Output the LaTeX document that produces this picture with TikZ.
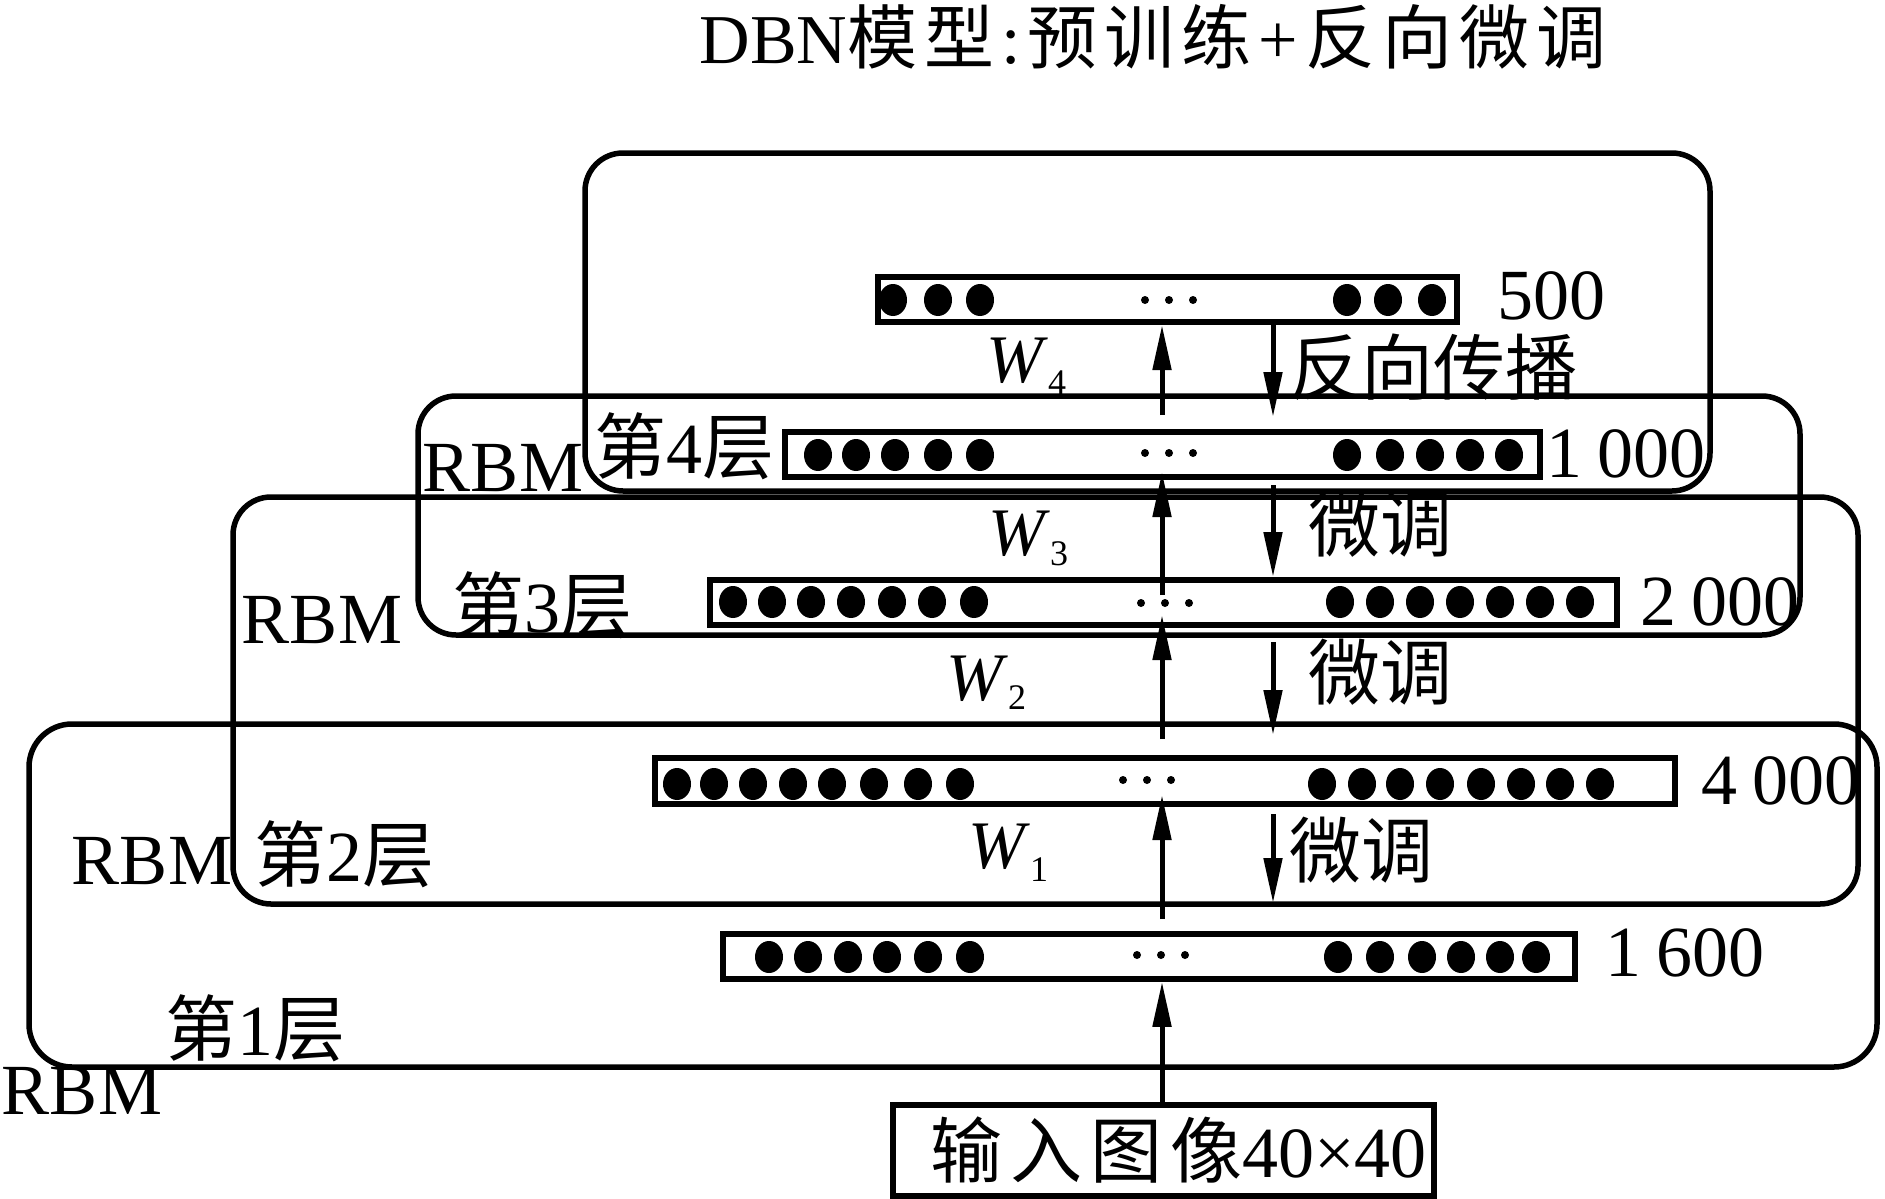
\documentclass[tikz,border=0pt]{standalone}
\usepackage{fontspec}
\setmainfont{Liberation Serif}
\newfontfamily\cjk{Noto Sans CJK SC}
\usetikzlibrary{arrows.meta}
\newcommand\tgap{\hspace{7pt}}
\newcommand\igap{\hspace{8pt}}
\begin{document}
\begin{tikzpicture}[x=1pt,y=-1pt,
  rbox/.style={draw, line width=5.5pt, rounded corners=38pt, inner sep=0pt},
  layerbox/.style={draw, line width=5.5pt, inner sep=0pt},
  lbl/.style={inner sep=0pt, font=\fontsize{72}{72}\selectfont},
  wlbl/.style={inner sep=0pt, anchor=base west, font=\fontsize{68}{68}\selectfont},
  arr/.style={line width=5pt, -{Triangle[length=45pt,width=18pt]}},
  unitdot/.style={fill=black},
  edot/.style={fill=black}]
\useasboundingbox (0,0) rectangle (1885,1199);

% title
\node[inner sep=0pt, font=\fontsize{70}{70}\selectfont] (title) at (1153,37)
  {DBN{\cjk 模}\tgap{\cjk 型}\tgap:\tgap{\cjk 预}\tgap{\cjk 训}\tgap{\cjk 练}\tgap+\tgap{\cjk 反}\tgap{\cjk 向}\tgap{\cjk 微}\tgap{\cjk 调}};

% RBM containers
\node[rbox, minimum width=1125pt, minimum height=338pt] (rbm4) at (1147.5,322) {};
\node[rbox, minimum width=1382pt, minimum height=239pt] (rbm3) at (1109,515.5) {};
\node[rbox, minimum width=1625pt, minimum height=407pt] (rbm2) at (1045.5,700.5) {};
\node[rbox, minimum width=1848pt, minimum height=343pt, rounded corners=43pt] (rbm1) at (953,895.5) {};

% layers
\node[layerbox, minimum width=579pt, minimum height=45pt] (l500) at (1167.5,299.5) {};
\node[layerbox, minimum width=755pt, minimum height=45pt] (l1000) at (1162.5,454.5) {};
\node[layerbox, minimum width=907pt, minimum height=45pt] (l2000) at (1163.5,602.5) {};
\node[layerbox, minimum width=1020pt, minimum height=46pt] (l4000) at (1165,781) {};
\node[layerbox, minimum width=852pt, minimum height=45pt] (l1600) at (1149,956.5) {};
\node[layerbox, minimum width=541pt, minimum height=91pt, font=\fontsize{72}{72}\selectfont] (inp) at (1163.5,1150.5)
  {\hspace{30pt}{\cjk 输}\igap{\cjk 入}\igap{\cjk 图}\igap{\cjk 像}40×40};

% units
\foreach \x in {893,938,980,1347,1388,1432}
  \fill[unitdot] (\x,300) ellipse [x radius=14pt, y radius=16pt];
\foreach \x in {818,856,895,938,980,1347,1390,1430,1470,1509}
  \fill[unitdot] (\x,455) ellipse [x radius=14pt, y radius=16pt];
\foreach \x in {733,772,811,851,892,932,974,1340,1380,1420,1460,1500,1540,1580}
  \fill[unitdot] (\x,602) ellipse [x radius=14pt, y radius=16pt];
\foreach \x in {677,714,753,793,832,874,918,960,1322,1362,1400,1440,1481,1521,1560,1600}
  \fill[unitdot] (\x,784) ellipse [x radius=14pt, y radius=16pt];
\foreach \x in {769,808,848,887,928,970,1338,1380,1422,1461,1500,1536}
  \fill[unitdot] (\x,957) ellipse [x radius=14pt, y radius=16pt];

% ellipses (...)
\foreach \x in {1145,1169,1193} {
  \fill[edot] (\x,300) circle (4pt);
  \fill[edot] (\x,453) circle (4pt);}
\foreach \x in {1141,1165,1189} \fill[edot] (\x,603) circle (4pt);
\foreach \x in {1123,1147,1171} \fill[edot] (\x,780) circle (4pt);
\foreach \x in {1137,1161,1185} \fill[edot] (\x,955) circle (4pt);

% arrow end points
\coordinate (ux) at (1162,0);
\coordinate (dx) at (1273,0);
\coordinate (a1s) at (1162,919); \coordinate (a1e) at (1162,795);
\coordinate (a2s) at (1162,739); \coordinate (a2e) at (1162,615);
\coordinate (a3s) at (1162,595); \coordinate (a3e) at (1162,472);
\coordinate (a4s) at (1162,415); \coordinate (a4e) at (1162,325);
\coordinate (d4e) at (1273,417);
\coordinate (d3s) at (1273,485); \coordinate (d3e) at (1273,577);
\coordinate (d2s) at (1273,642); \coordinate (d2e) at (1273,735);
\coordinate (d1s) at (1273,814); \coordinate (d1e) at (1273,903);

% upward (pre-training) arrows
\draw[arr] (inp.north -| ux) -- (l1600.south -| ux);
\draw[arr] (a1s) -- (a1e);
\draw[arr] (a2s) -- (a2e);
\draw[arr] (a3s) -- (a3e);
\draw[arr] (a4s) -- (a4e);
% downward (fine-tuning) arrows
\draw[arr] (l500.south -| dx) -- (d4e);
\draw[arr] (d3s) -- (d3e);
\draw[arr] (d2s) -- (d2e);
\draw[arr] (d1s) -- (d1e);

% unit counts
\node[lbl] (n500) at (1551,296) {500};
\node[lbl] (n1000) at (1626,454) {1\hspace{0.22em}000};
\node[lbl] (n2000) at (1720,602) {2\hspace{0.22em}000};
\node[lbl] (n4000) at (1781,781) {4\hspace{0.22em}000};
\node[lbl] (n1600) at (1685,953) {1\hspace{0.22em}600};

% arrow labels
\node[lbl] (bp) at (1433,367) {\cjk 反向传播};
\node[lbl] (ft3) at (1380,524) {\cjk 微调};
\node[lbl] (ft2) at (1380,672) {\cjk 微调};
\node[lbl] (ft1) at (1361,850) {\cjk 微调};

% weights
\node[wlbl] (w4) at (986,382) {\textit{W}\raisebox{-12pt}{\fontsize{36}{36}\selectfont 4}};
\node[wlbl] (w3) at (988,555) {\textit{W}\raisebox{-10pt}{\fontsize{36}{36}\selectfont 3}};
\node[wlbl] (w2) at (946,700) {\textit{W}\raisebox{-9pt}{\fontsize{36}{36}\selectfont 2}};
\node[wlbl] (w1) at (968,868) {\textit{W}\raisebox{-13pt}{\fontsize{36}{36}\selectfont 1}};

% RBM and layer labels
\node[lbl] (r4) at (503,468) {RBM};
\node[lbl] (r3) at (322,620) {RBM};
\node[lbl] (r2) at (152,861) {RBM};
\node[lbl] (r1) at (82,1091) {RBM};
\node[lbl] (c4) at (684,446) {{\cjk 第}4{\cjk 层}};
\node[lbl] (c3) at (542,605) {{\cjk 第}3{\cjk 层}};
\node[lbl] (c2) at (344,854) {{\cjk 第}2{\cjk 层}};
\node[lbl] (c1) at (255,1028) {{\cjk 第}1{\cjk 层}};
\end{tikzpicture}
\end{document}
